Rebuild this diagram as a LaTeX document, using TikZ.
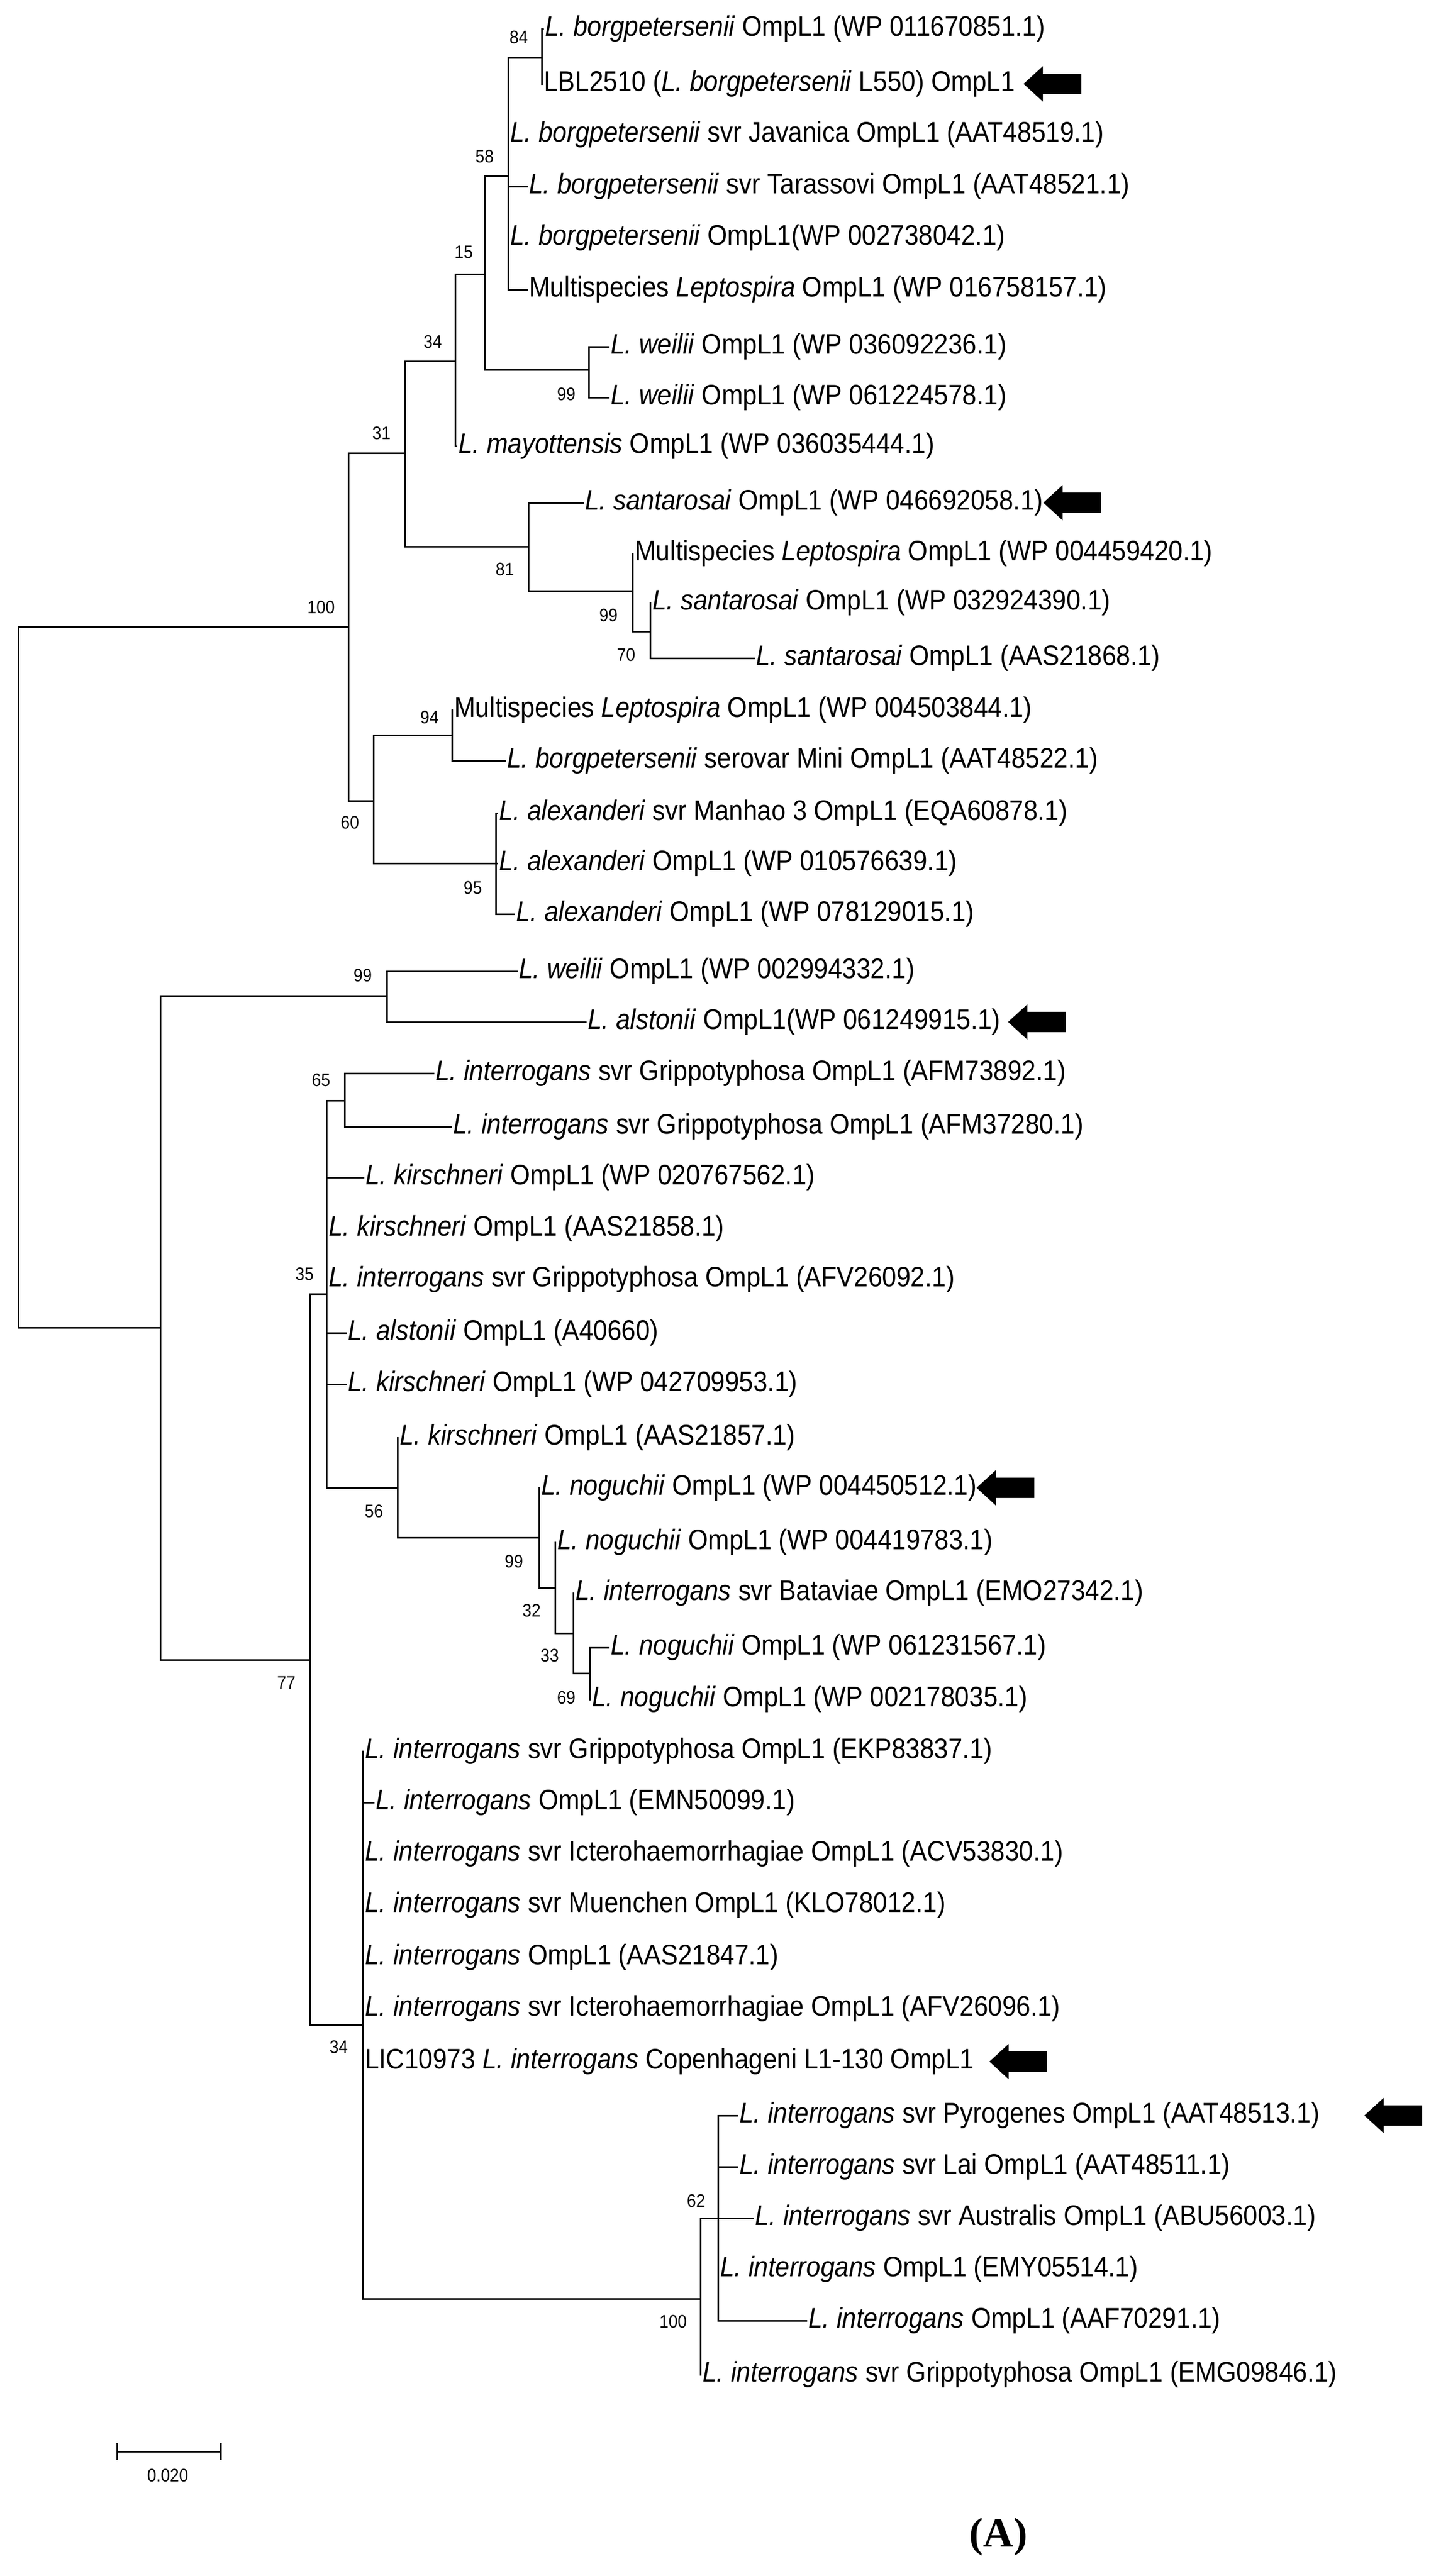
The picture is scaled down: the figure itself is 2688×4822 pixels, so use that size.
\documentclass[tikz,border=0pt]{standalone}
\usepackage{fontspec}
\setmainfont{Liberation Sans}[FakeStretch=0.9]
\newfontfamily\serifbf{Liberation Serif}
\tikzset{
  br/.style={line width=3pt,line cap=rect},
  lf/.style={anchor=west,inner sep=4pt,font=\fontsize{53}{56}\selectfont},
  bs/.style={font=\fontsize{34}{36}\selectfont,inner sep=0pt},
}
\newcommand{\lfx}[4]{\coordinate (#1) at (#2,#3); \node[lf] (#1t) at (#1) {#4};}
\newcommand{\ed}[2]{\draw[br] (#1 |- #2) -- (#2);}
\newcommand{\vt}[3]{\draw[br] (#1 |- #2) -- (#1 |- #3);}
\newcommand{\bsl}[4]{\node[bs] (#1) at (#2,#3) {#4};}
\newcommand{\arr}[3]{\fill[black] (#2,#3) coordinate (#1) -- ++(36,-33) -- ++(0,14) -- ++(72,0) -- ++(0,38) -- ++(-72,0) -- ++(0,14) -- cycle;}
\begin{document}
\begin{tikzpicture}[x=1pt,y=-1pt]
\useasboundingbox (0,0) rectangle (2688,4822);
% internal nodes
\coordinate (R) at (34,1829);
\coordinate (A) at (652,1173);
\coordinate (B) at (758,848);
\coordinate (D) at (852,676);
\coordinate (N15) at (907,513);
\coordinate (N58) at (951,329);
\coordinate (N84) at (1014,108);
\coordinate (W1) at (1102,692);
\coordinate (E) at (989,1023);
\coordinate (F) at (1184,1106);
\coordinate (G) at (1217,1182);
\coordinate (C) at (699,1499);
\coordinate (N94) at (846,1376);
\coordinate (N95) at (928,1616);
\coordinate (H) at (300,2485);
\coordinate (N99b) at (724,1864);
\coordinate (I) at (580,3107);
\coordinate (J) at (611,2422);
\coordinate (N65) at (645,2060);
\coordinate (N56) at (744,2785);
\coordinate (N99c) at (1009,2878);
\coordinate (N32) at (1039,2972);
\coordinate (N33) at (1073,3057);
\coordinate (N69) at (1104,3132);
\coordinate (K) at (679,3790);
\coordinate (L) at (1311,4303);
\coordinate (N62) at (1344,4152);
% leaves
\lfx{l1}{1016}{54}{\textit{L. borgpetersenii} OmpL1 (WP 011670851.1)}
\lfx{l2}{1014}{157}{LBL2510 (\textit{L. borgpetersenii} L550) OmpL1}
\lfx{l3}{951}{252}{\textit{L. borgpetersenii} svr Javanica OmpL1 (AAT48519.1)}
\lfx{l4}{986}{349}{\textit{L. borgpetersenii} svr Tarassovi OmpL1 (AAT48521.1)}
\lfx{l5}{951}{445}{\textit{L. borgpetersenii} OmpL1(WP 002738042.1)}
\lfx{l6}{986}{542}{Multispecies \textit{Leptospira} OmpL1 (WP 016758157.1)}
\lfx{l7}{1139}{649}{\textit{L. weilii} OmpL1 (WP 036092236.1)}
\lfx{l8}{1139}{744}{\textit{L. weilii} OmpL1 (WP 061224578.1)}
\lfx{l9}{854}{835}{\textit{L. mayottensis} OmpL1 (WP 036035444.1)}
\lfx{l10}{1091}{941}{\textit{L. santarosai} OmpL1 (WP 046692058.1)}
\lfx{l11}{1184}{1036}{Multispecies \textit{Leptospira} OmpL1 (WP 004459420.1)}
\lfx{l12}{1217}{1128}{\textit{L. santarosai} OmpL1 (WP 032924390.1)}
\lfx{l13}{1411}{1232}{\textit{L. santarosai} OmpL1 (AAS21868.1)}
\lfx{l14}{846}{1329}{Multispecies \textit{Leptospira} OmpL1 (WP 004503844.1)}
\lfx{l15}{945}{1424}{\textit{L. borgpetersenii} serovar Mini OmpL1 (AAT48522.1)}
\lfx{l16}{930}{1522}{\textit{L. alexanderi} svr Manhao 3 OmpL1 (EQA60878.1)}
\lfx{l17}{930}{1616}{\textit{L. alexanderi} OmpL1 (WP 010576639.1)}
\lfx{l18}{962}{1711}{\textit{L. alexanderi} OmpL1 (WP 078129015.1)}
\lfx{l19}{967}{1818}{\textit{L. weilii} OmpL1 (WP 002994332.1)}
\lfx{l20}{1096}{1913}{\textit{L. alstonii} OmpL1(WP 061249915.1)}
\lfx{l21}{811}{2009}{\textit{L. interrogans} svr Grippotyphosa OmpL1 (AFM73892.1)}
\lfx{l22}{844}{2109}{\textit{L. interrogans} svr Grippotyphosa OmpL1 (AFM37280.1)}
\lfx{l23}{680}{2204}{\textit{L. kirschneri} OmpL1 (WP 020767562.1)}
\lfx{l24}{611}{2300}{\textit{L. kirschneri} OmpL1 (AAS21858.1)}
\lfx{l25}{611}{2395}{\textit{L. interrogans} svr Grippotyphosa OmpL1 (AFV26092.1)}
\lfx{l26}{647}{2495}{\textit{L. alstonii} OmpL1 (A40660)}
\lfx{l27}{647}{2591}{\textit{L. kirschneri} OmpL1 (WP 042709953.1)}
\lfx{l28}{744}{2691}{\textit{L. kirschneri} OmpL1 (AAS21857.1)}
\lfx{l29}{1009}{2785}{\textit{L. noguchii} OmpL1 (WP 004450512.1)}
\lfx{l30}{1039}{2887}{\textit{L. noguchii} OmpL1 (WP 004419783.1)}
\lfx{l31}{1073}{2982}{\textit{L. interrogans} svr Bataviae OmpL1 (EMO27342.1)}
\lfx{l32}{1139}{3084}{\textit{L. noguchii} OmpL1 (WP 061231567.1)}
\lfx{l33}{1104}{3181}{\textit{L. noguchii} OmpL1 (WP 002178035.1)}
\lfx{l34}{679}{3278}{\textit{L. interrogans} svr Grippotyphosa OmpL1 (EKP83837.1)}
\lfx{l35}{699}{3374}{\textit{L. interrogans} OmpL1 (EMN50099.1)}
\lfx{l36}{679}{3470}{\textit{L. interrogans} svr Icterohaemorrhagiae OmpL1 (ACV53830.1)}
\lfx{l37}{679}{3566}{\textit{L. interrogans} svr Muenchen OmpL1 (KLO78012.1)}
\lfx{l38}{679}{3664}{\textit{L. interrogans} OmpL1 (AAS21847.1)}
\lfx{l39}{679}{3760}{\textit{L. interrogans} svr Icterohaemorrhagiae OmpL1 (AFV26096.1)}
\lfx{l40}{679}{3859}{LIC10973 \textit{L. interrogans} Copenhageni L1-130 OmpL1}
\lfx{l41}{1380}{3960}{\textit{L. interrogans} svr Pyrogenes OmpL1 (AAT48513.1)}
\lfx{l42}{1380}{4056}{\textit{L. interrogans} svr Lai OmpL1 (AAT48511.1)}
\lfx{l43}{1409}{4152}{\textit{L. interrogans} svr Australis OmpL1 (ABU56003.1)}
\lfx{l44}{1344}{4248}{\textit{L. interrogans} OmpL1 (EMY05514.1)}
\lfx{l45}{1509}{4344}{\textit{L. interrogans} OmpL1 (AAF70291.1)}
\lfx{l46}{1311}{4445}{\textit{L. interrogans} svr Grippotyphosa OmpL1 (EMG09846.1)}
% verticals
\vt{R}{A}{H}
\vt{A}{B}{C}
\vt{B}{D}{E}
\vt{D}{N15}{l9}
\vt{N15}{N58}{W1}
\vt{N58}{N84}{l6}
\vt{N84}{l1}{l2}
\vt{W1}{l7}{l8}
\vt{E}{l10}{F}
\vt{F}{l11}{G}
\vt{G}{l12}{l13}
\vt{C}{N94}{N95}
\vt{N94}{l14}{l15}
\vt{N95}{l16}{l18}
\vt{H}{N99b}{I}
\vt{N99b}{l19}{l20}
\vt{I}{J}{K}
\vt{J}{N65}{N56}
\vt{N65}{l21}{l22}
\vt{N56}{l28}{N99c}
\vt{N99c}{l29}{N32}
\vt{N32}{l30}{N33}
\vt{N33}{l31}{N69}
\vt{N69}{l32}{l33}
\vt{K}{l34}{L}
\vt{L}{N62}{l46}
\vt{N62}{l41}{l45}
% horizontals
\ed{R}{A}\ed{R}{H}
\ed{A}{B}\ed{A}{C}
\ed{B}{D}\ed{B}{E}
\ed{D}{N15}\ed{D}{l9}
\ed{N15}{N58}\ed{N15}{W1}
\ed{N58}{N84}\ed{N58}{l3}\ed{N58}{l4}\ed{N58}{l5}\ed{N58}{l6}
\ed{N84}{l1}\ed{N84}{l2}
\ed{W1}{l7}\ed{W1}{l8}
\ed{E}{l10}\ed{E}{F}
\ed{F}{l11}\ed{F}{G}
\ed{G}{l12}\ed{G}{l13}
\ed{C}{N94}\ed{C}{N95}
\ed{N94}{l14}\ed{N94}{l15}
\ed{N95}{l16}\ed{N95}{l17}\ed{N95}{l18}
\ed{H}{N99b}\ed{H}{I}
\ed{N99b}{l19}\ed{N99b}{l20}
\ed{I}{J}\ed{I}{K}
\ed{J}{N65}\ed{J}{l23}\ed{J}{l24}\ed{J}{l25}\ed{J}{l26}\ed{J}{l27}\ed{J}{N56}
\ed{N65}{l21}\ed{N65}{l22}
\ed{N56}{l28}\ed{N56}{N99c}
\ed{N99c}{l29}\ed{N99c}{N32}
\ed{N32}{l30}\ed{N32}{N33}
\ed{N33}{l31}\ed{N33}{N69}
\ed{N69}{l32}\ed{N69}{l33}
\ed{K}{l34}\ed{K}{l35}\ed{K}{l36}\ed{K}{l37}\ed{K}{l38}\ed{K}{l39}\ed{K}{l40}\ed{K}{L}
\ed{L}{N62}\ed{L}{l46}
\ed{N62}{l41}\ed{N62}{l42}\ed{N62}{l43}\ed{N62}{l44}\ed{N62}{l45}
% bootstrap labels
\bsl{b1}{601}{1137}{100}
\bsl{b2}{714}{811}{31}
\bsl{b3}{810}{640}{34}
\bsl{b4}{868}{472}{15}
\bsl{b5}{907}{293}{58}
\bsl{b6}{971}{70}{84}
\bsl{b7}{1060}{738}{99}
\bsl{b8}{945}{1066}{81}
\bsl{b9}{1139}{1152}{99}
\bsl{b10}{1172}{1226}{70}
\bsl{b11}{804}{1343}{94}
\bsl{b12}{655}{1540}{60}
\bsl{b13}{885}{1662}{95}
\bsl{b14}{679}{1826}{99}
\bsl{b15}{601}{2022}{65}
\bsl{b16}{570}{2385}{35}
\bsl{b17}{700}{2829}{56}
\bsl{b18}{962}{2923}{99}
\bsl{b19}{995}{3015}{32}
\bsl{b20}{1029}{3099}{33}
\bsl{b21}{1060}{3178}{69}
\bsl{b22}{536}{3150}{77}
\bsl{b23}{634}{3832}{34}
\bsl{b24}{1260}{4346}{100}
\bsl{b25}{1303}{4120}{62}
% arrows
\arr{a1}{1916}{157}
\arr{a2}{1953}{941}
\arr{a3}{1887}{1913}
\arr{a4}{1828}{2785}
\arr{a5}{1852}{3859}
\arr{a6}{2554}{3960}
% scale bar
\coordinate (s1) at (219,4589);
\coordinate (s2) at (413,4589);
\draw[line width=3pt] (s1) -- (s2);
\draw[line width=3pt] ([yshift=-16pt]s1) -- ([yshift=16pt]s1);
\draw[line width=3pt] ([yshift=-16pt]s2) -- ([yshift=16pt]s2);
\node[bs] (sl) at (314,4634) {0.020};
\node[font=\serifbf\bfseries\fontsize{78}{80}\selectfont] (lab) at (1869,4749) {(A)};
\end{tikzpicture}
\end{document}
